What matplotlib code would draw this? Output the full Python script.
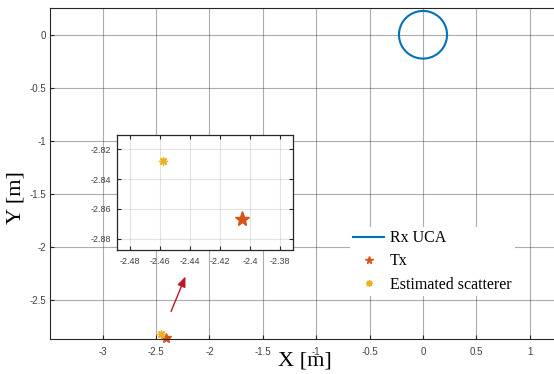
import numpy as np
import matplotlib
matplotlib.use("Agg")
import matplotlib.pyplot as plt

# data
rx_center = (0.0, 0.0)
rx_radius = 0.225
tx_x = [-2.405]
tx_y = [-2.867]
sc_x = [-2.458]
sc_y = [-2.828]
main_xticks = [-3, -2.5, -2, -1.5, -1, -0.5, 0, 0.5, 1]
main_yticks = [0, -0.5, -1, -1.5, -2, -2.5]
inset_xticks = [-2.48, -2.46, -2.44, -2.42, -2.40, -2.38]
inset_yticks = [-2.82, -2.84, -2.86, -2.88]

BLUE = '#0072BD'
ORANGE = '#D95319'
YELLOW = '#EDB120'
sans = ['Liberation Sans', 'DejaVu Sans']
serif = ['Liberation Serif', 'DejaVu Serif']

fig = plt.figure(figsize=(5.54, 3.74), dpi=100)
ax = fig.add_axes([50/554, (374-338.7)/374, 1.0 - 50/554, (338.7-8.3)/374])

th = np.linspace(0, 2*np.pi, 400)
ax.plot(rx_center[0] + rx_radius*np.cos(th), rx_center[1] + rx_radius*np.sin(th),
        color=BLUE, lw=1.5, label='Rx UCA')
ax.plot(tx_x, tx_y, linestyle='none', marker='*', color=ORANGE, ms=7, label='Tx', clip_on=False)
ax.plot(sc_x, sc_y, linestyle='none', marker=(8, 2, 0), color=YELLOW, ms=6, mew=1.0,
        label='Estimated scatterer', clip_on=False)

ax.set_xlim(-3.494, 1.227)
ax.set_ylim(-2.87, 0.25)
ax.set_xticks(main_xticks)
ax.set_xticklabels([('%g' % v) for v in main_xticks])
ax.set_yticks(main_yticks)
ax.set_yticklabels([('%g' % v) for v in main_yticks])
ax.grid(True, color='#262626', alpha=0.38, lw=0.8)
ax.set_axisbelow(True)
ax.tick_params(direction='in', length=3, labelsize=7, colors='#262626', labelcolor='#404040',
               top=False, right=False)
ax.tick_params(axis='x', pad=6)
ax.tick_params(axis='y', pad=3)
for lab in ax.get_xticklabels() + ax.get_yticklabels():
    lab.set_family(sans)
for s in ['left', 'bottom', 'top']:
    ax.spines[s].set_color('#262626')
    ax.spines[s].set_linewidth(0.8)
ax.spines['right'].set_visible(False)

ax.set_xlabel('X [m]', family=serif, fontsize=16)
ax.set_ylabel('Y [m]', family=serif, fontsize=16)
ax.xaxis.set_label_coords(0.505, -0.068)
ax.yaxis.set_label_coords(-0.067, 0.426)
ax.xaxis.label.set_va('center')
ax.yaxis.label.set_va('center')

leg = ax.legend(loc='upper left', bbox_to_anchor=((342-50)/504, (338.7-219)/330.4),
                frameon=True, framealpha=1, edgecolor='none', fancybox=False,
                prop={'family': serif, 'size': 11.5}, handlelength=1.95, handletextpad=0.35,
                labelspacing=0.45, borderpad=0.2, markerscale=0.8)

# inset
ins = fig.add_axes([117/554, (374-250)/374, 176/554, 114.7/374])
ins.plot(tx_x, tx_y, linestyle='none', marker='*', color=ORANGE, ms=11)
ins.plot(sc_x, sc_y, linestyle='none', marker=(8, 2, 0), color=YELLOW, ms=6, mew=1.0)
ins.set_xlim(-2.4887, -2.3713)
ins.set_ylim(-2.8876, -2.8106)
ins.set_xticks(inset_xticks)
ins.set_xticklabels([('%g' % v) for v in inset_xticks])
ins.set_yticks(inset_yticks)
ins.set_yticklabels([('%g' % v) for v in inset_yticks])
ins.grid(True, color='#262626', alpha=0.12, lw=0.8)
ins.set_axisbelow(True)
ins.tick_params(direction='in', length=3, labelsize=6.5, colors='#262626', labelcolor='#404040',
                top=True, right=True)
ins.tick_params(axis='x', pad=5)
ins.tick_params(axis='y', pad=4.5)
for lab in ins.get_xticklabels() + ins.get_yticklabels():
    lab.set_family(sans)
for s in ins.spines.values():
    s.set_color('#262626')
    s.set_linewidth(0.9)

# arrow
fig.add_artist(matplotlib.patches.FancyArrowPatch(
    (170/554, 1 - 314/374), (186.5/554, 1 - 274/374), transform=fig.transFigure,
    arrowstyle='-|>,head_length=6,head_width=2.5', color='#C0142A', lw=1.0))

fig.savefig('out.png', dpi=100)
